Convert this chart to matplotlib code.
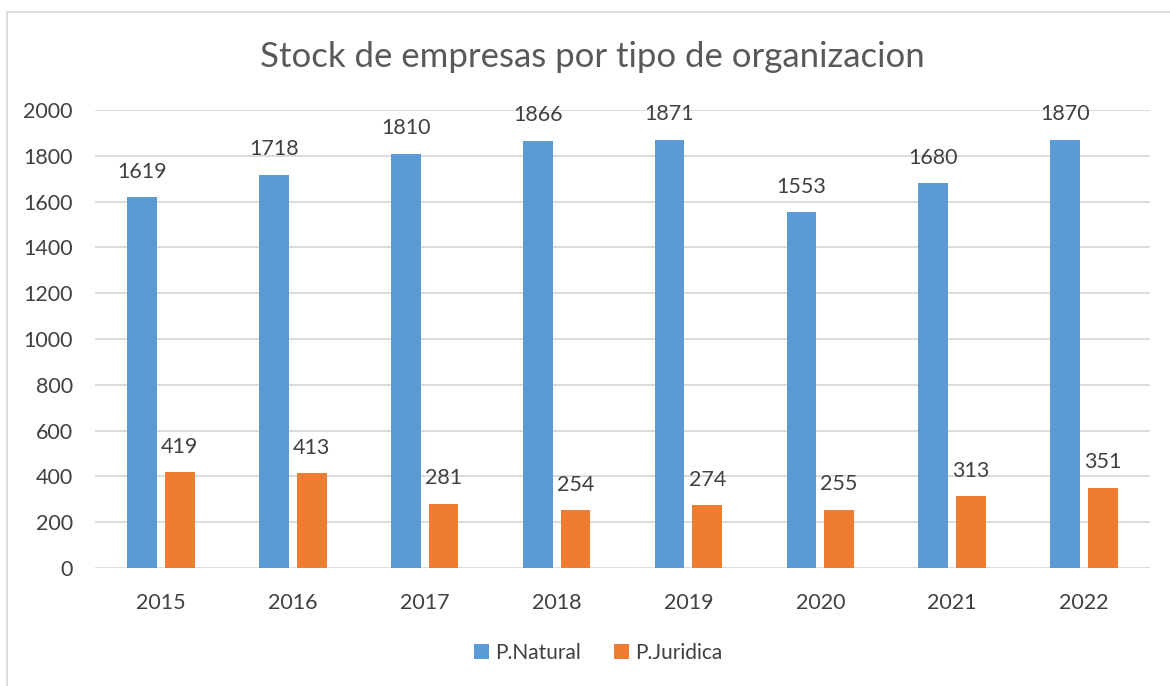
import numpy as np
import matplotlib.pyplot as plt
from matplotlib.patches import Rectangle

# Data
years = ['2015', '2016', '2017', '2018', '2019', '2020', '2021', '2022']
natural = [1619, 1718, 1810, 1866, 1871, 1553, 1680, 1870]
juridica = [419, 413, 281, 254, 274, 255, 313, 351]
yticks = [0, 200, 400, 600, 800, 1000, 1200, 1400, 1600, 1800, 2000]

blue = '#5B9BD5'
orange = '#ED7D31'
txt = '#404040'

plt.rcParams['font.family'] = ['Lato', 'DejaVu Sans']

fig = plt.figure(figsize=(11.7, 6.86), dpi=100)
ax = fig.add_axes([95 / 1170, 1 - 568 / 686, (1150 - 95) / 1170, (568 - 110) / 686])

x = np.arange(len(years))
w = 0.225
off = 0.143
b1 = ax.bar(x - off, natural, w, color=blue, label='P.Natural', zorder=3)
b2 = ax.bar(x + off, juridica, w, color=orange, label='P.Juridica', zorder=3)

# Value labels above bars
for bars in (b1, b2):
    for r in bars:
        ax.annotate(str(int(r.get_height())), (r.get_x() + r.get_width() / 2, r.get_height()),
                    xytext=(0, 11), textcoords='offset points', ha='center', va='bottom',
                    fontsize=15.5, color=txt)

ax.set_xlim(-0.5, len(years) - 0.5)
ax.set_ylim(0, 2000)
ax.set_yticks(yticks)
ax.set_xticks(x)
ax.set_xticklabels(years)
ax.tick_params(axis='both', length=0, labelsize=15.5, labelcolor=txt)
ax.tick_params(axis='x', pad=18)
ax.tick_params(axis='y', pad=16)
ax.grid(axis='y', color='#D9D9D9', linewidth=1.3, zorder=0)
for s in ax.spines.values():
    s.set_visible(False)

fig.text(592 / 1170, 1 - 57 / 686, 'Stock de empresas por tipo de organizacion',
         ha='center', va='center', fontsize=25, color='#595959')

fig.legend(loc='center', bbox_to_anchor=(598 / 1170, 1 - 653 / 686), ncol=2, frameon=False,
           fontsize=15, labelcolor=txt, handlelength=0.7, handleheight=0.7,
           handletextpad=0.3, columnspacing=1.6)

# chart border
fig.patches.append(Rectangle((7 / 1170, -0.05), 1.2, 1.05 - 12 / 686, transform=fig.transFigure,
                             fill=False, edgecolor='#D9D9D9', linewidth=1.3))

fig.savefig('out.png', dpi=100)
